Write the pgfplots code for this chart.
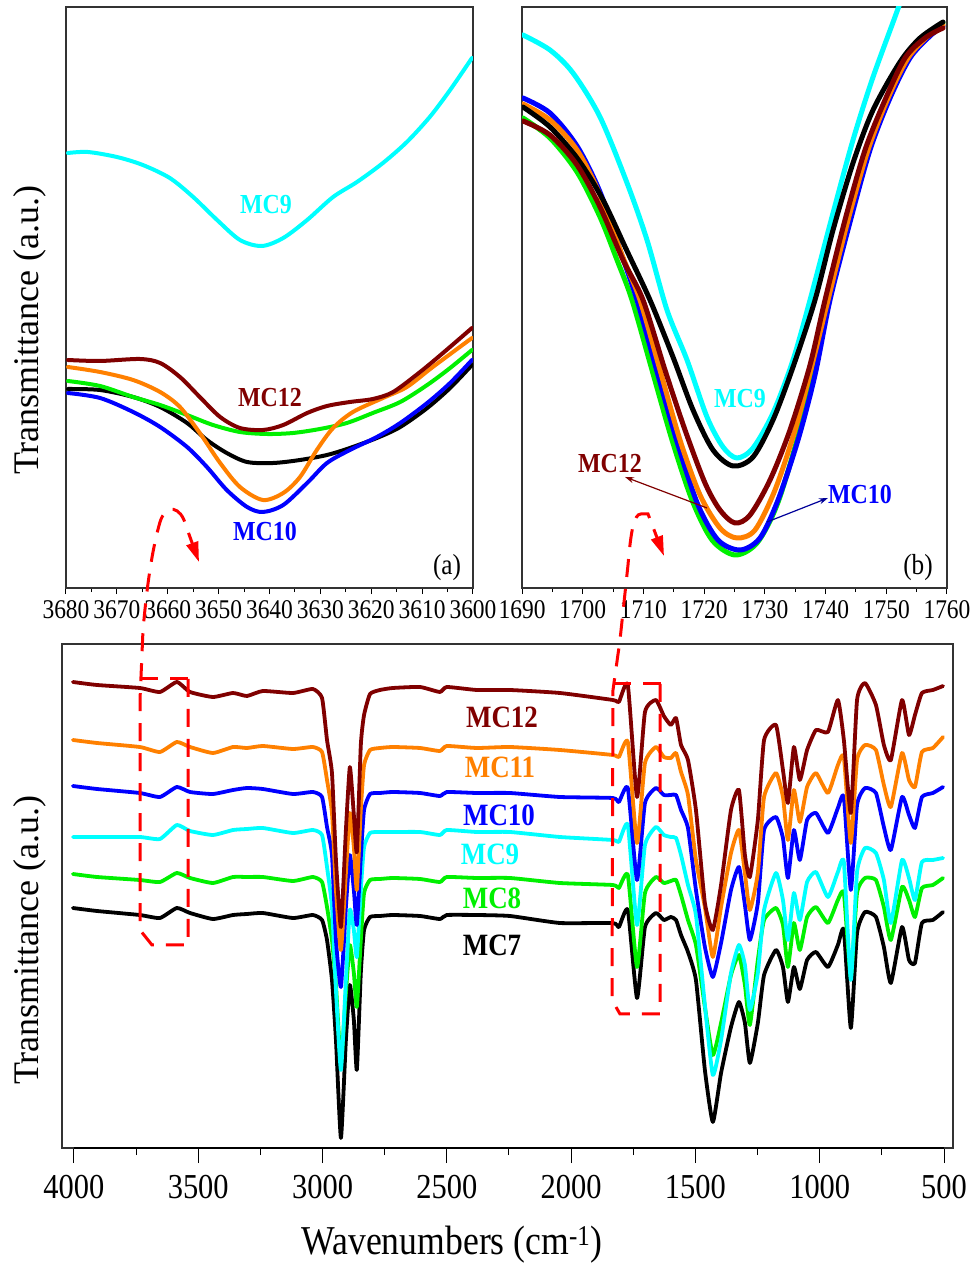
\documentclass[border=0pt]{standalone}
\usepackage{fontspec}
\setmainfont{Liberation Serif}
\newfontfamily\cond[FakeStretch=0.87]{Liberation Serif}
\usepackage{pgfplots}
\pgfplotsset{compat=1.18}
\usepackage{pgfplotstable}
\usetikzlibrary{arrows.meta}

\definecolor{c12}{RGB}{128,0,0}
\definecolor{c11}{RGB}{255,128,0}
\definecolor{c10}{RGB}{0,0,255}
\definecolor{c9}{RGB}{0,255,255}
\definecolor{c8}{RGB}{0,240,0}
\definecolor{c7}{RGB}{0,0,0}
\definecolor{dashred}{RGB}{255,0,0}

\newcommand\toplab{\cond\fontsize{27bp}{29bp}\selectfont}
\newcommand\botlab{\cond\fontsize{35bp}{37bp}\selectfont}

\pgfplotstableread{
w y12 y11 y10 y9 y8 y7
4004 682 740 786 837 874 908
3907 685 743 789 837 877 911
3735 688 747 793 837 880 915
3654 692 752 797 839 882 918
3586 682 742 787 825 873 908
3533 692 747 792 831 878 913
3441 697 753 794 835 883 919
3360 693 747 790 830 877 915
3304 696 748 788 829 877 914
3240 691 746 789 828 877 913
3119 693 749 794 833 881 918
3039 689 747 792 830 877 915
3002 698 752 797 835 882 920
2982 740 780 827 867 907 940
2962 773 813 855 907 940 980
2946 860 890 940 990 985 1040
2926 927 950 987 1070 1063 1138
2906 830 873 907 980 993 1040
2890 767 813 855 910 945 985
2874 815 847 890 930 973 1020
2862 852 890 925 957 1007 1070
2846 745 810 857 890 940 973
2833 715 765 810 847 893 930
2809 694 750 794 833 880 917
2769 690 748 793 832 879 916
2717 688 747 792 832 878 915
2608 687 748 793 832 879 916
2528 692 751 796 835 882 919
2500 687 746 792 830 877 915
2379 690 748 793 832 878 915
2246 690 747 793 832 878 916
2045 693 750 797 837 883 923
1832 700 755 798 840 885 923
1808 702 757 802 842 888 927
1772 685 742 788 825 875 910
1735 797 843 880 925 967 998
1703 712 763 803 845 893 927
1659 700 747 788 827 877 913
1627 716 757 795 835 883 920
1599 725 758 795 837 881 917
1578 718 753 795 838 880 920
1558 745 772 810 855 895 935
1530 760 795 828 885 920 952
1498 810 860 890 915 945 980
1462 903 907 947 1005 1007 1070
1430 930 957 977 1075 1055 1122
1397 885 907 943 1040 1023 1073
1357 810 853 890 973 975 1027
1325 790 830 867 945 955 1002
1301 855 873 905 965 985 1023
1281 877 910 940 1010 1025 1063
1249 820 873 903 973 960 1023
1224 740 797 830 910 920 975
1176 725 773 817 873 908 950
1148 770 797 838 900 925 967
1128 803 840 878 940 967 1002
1104 747 790 830 893 923 967
1080 780 822 860 920 950 989
1051 750 787 820 882 917 960
1015 730 773 813 872 907 952
967 732 793 833 897 923 967
927 700 765 808 872 900 945
903 740 757 797 862 893 930
875 813 843 890 980 977 1028
850 700 760 805 872 893 933
818 683 745 788 848 878 912
774 705 750 793 853 880 917
742 745 785 827 880 907 947
714 760 807 850 923 940 983
669 700 753 797 860 887 927
641 735 780 815 878 900 960
617 715 787 828 900 917 963
589 693 752 797 862 888 923
545 690 748 793 860 885 920
504 686 737 787 858 878 912
}\bottomdata

\pgfplotsset{
  panel/.style={
    scale only axis, y dir=reverse, ytick=\empty,
    axis line style={line width=1.3bp, black!80},
    tick style={line width=1bp, black},
    xtick pos=bottom, tick align=outside,
    /pgf/number format/assume math mode=true,
    /pgf/number format/1000 sep={},
    every axis plot/.append style={line join=round, line cap=round},
  }
}

\begin{document}
\begin{tikzpicture}
\useasboundingbox (0,0) rectangle (977bp,1263bp);

% ---------- panel (a) ----------
\begin{axis}[panel, at={(66bp,675bp)}, anchor=south west,
  width=407bp, height=581bp,
  xmin=3600, xmax=3680, x dir=reverse, ymin=7, ymax=588,
  xtick={3600,3610,...,3680}, minor x tick num=1,
  major tick length=6bp, minor tick length=4bp,
  xticklabel style={font=\toplab, yshift=-3bp},
  every axis plot/.append style={line width=4bp}]
\addplot[c7, smooth] coordinates {(3679.6,389) (3673.3,390) (3666.8,397) (3661.5,407) (3656.2,423) (3652.3,440) (3648.4,453) (3644.4,462) (3639.3,463) (3634.0,460) (3628.7,455) (3624.2,448) (3618.9,438) (3614.3,427) (3609.0,408) (3604.5,388) (3600.2,365)};
\addplot[c8, smooth] coordinates {(3679.6,381) (3673.3,386) (3666.8,397) (3661.5,405) (3656.2,415) (3651.1,425) (3645.8,432) (3640.5,434) (3635.4,433) (3630.1,429) (3624.8,423) (3619.7,413) (3614.3,402) (3609.0,385) (3604.5,368) (3600.2,350)};
\addplot[c10, smooth] coordinates {(3679.6,393) (3673.3,398) (3666.8,412) (3661.5,427) (3656.2,447) (3652.3,467) (3648.4,490) (3644.4,507) (3641.3,512) (3637.3,505) (3632.6,483) (3628.7,463) (3624.2,450) (3618.9,437) (3614.3,423) (3609.0,403) (3604.5,383) (3600.2,360)};
\addplot[c11, smooth] coordinates {(3679.6,367) (3673.3,372) (3666.8,380) (3661.5,392) (3657.6,407) (3653.7,433) (3649.7,463) (3645.8,487) (3641.3,500) (3637.3,493) (3634.0,477) (3630.7,450) (3627.5,428) (3623.6,412) (3617.7,398) (3613.0,387) (3607.9,367) (3600.2,338)};
\addplot[c12, smooth] coordinates {(3679.6,360) (3673.3,361) (3665.5,359) (3661.5,363) (3657.6,377) (3653.7,397) (3649.7,417) (3645.8,428) (3641.3,430) (3637.3,425) (3632.6,413) (3628.7,406) (3624.2,402) (3619.7,399) (3615.7,392) (3610.4,372) (3605.9,353) (3600.2,328)};
\addplot[c9, smooth] coordinates {(3679.6,153) (3675.7,152) (3670.0,157) (3664.9,165) (3659.6,178) (3655.0,197) (3650.3,220) (3645.8,240) (3641.5,246) (3637.3,238) (3632.6,220) (3627.5,197) (3622.8,182) (3617.7,163) (3613.0,142) (3608.5,117) (3604.5,90) (3600.2,58)};
\end{axis}

% ---------- panel (b) ----------
\begin{axis}[panel, at={(522bp,675bp)}, anchor=south west,
  width=425bp, height=581bp,
  xmin=1690, xmax=1760, ymin=7, ymax=588,
  xtick={1690,1700,...,1760}, minor x tick num=1,
  major tick length=6bp, minor tick length=4bp,
  xticklabel style={font=\toplab, yshift=-3bp},
  every axis plot/.append style={line width=5bp}]
\addplot[c9, smooth] coordinates {(1690.16,35) (1694.61,50) (1698.40,73) (1702.85,117) (1707.30,183) (1710.59,240) (1713.88,310) (1717.18,360) (1720.47,417) (1723.11,447) (1725.41,458) (1728.05,448) (1731.34,413) (1734.64,360) (1737.44,300) (1741.23,213) (1744.52,140) (1747.82,77) (1752.26,3) (1753.91,-30)};
\addplot[c8, smooth] coordinates {(1690.16,118) (1694.61,138) (1699.06,172) (1702.85,217) (1705.65,260) (1708.12,300) (1711.41,370) (1714.71,440) (1718.00,500) (1721.30,540) (1725.09,555) (1728.71,543) (1732.00,505) (1735.30,440) (1738.26,370) (1740.40,300) (1743.70,220) (1746.99,148) (1750.29,95) (1753.58,55) (1756.88,33) (1759.35,23)};
\addplot[c10, smooth] coordinates {(1690.16,98) (1694.61,113) (1699.06,146) (1702.85,192) (1706.14,250) (1708.94,300) (1712.40,375) (1715.70,445) (1718.99,505) (1722.28,540) (1725.91,550) (1729.20,538) (1732.17,500) (1735.46,440) (1738.26,375) (1740.73,300) (1744.03,222) (1747.32,150) (1750.62,98) (1753.91,58) (1757.21,36) (1759.35,26)};
\addplot[c11, smooth] coordinates {(1690.16,104) (1694.61,120) (1699.06,150) (1702.85,195) (1706.47,255) (1709.44,300) (1712.73,370) (1716.02,440) (1719.32,495) (1722.61,528) (1725.41,538) (1728.38,530) (1731.67,490) (1734.97,430) (1737.77,365) (1740.40,300) (1743.70,220) (1746.99,150) (1750.29,98) (1753.58,58) (1756.88,36) (1759.35,25)};
\addplot[c7, smooth] coordinates {(1690.16,107) (1694.61,127) (1699.06,158) (1703.18,198) (1707.30,251) (1711.08,300) (1714.87,357) (1718.17,410) (1721.46,450) (1724.76,466) (1728.05,457) (1731.34,420) (1734.64,367) (1738.26,300) (1741.23,230) (1744.52,163) (1747.82,110) (1752.26,62) (1755.56,38) (1759.35,22)};
\addplot[c12, smooth] coordinates {(1690.16,121) (1694.61,135) (1699.06,165) (1702.85,207) (1706.64,260) (1709.93,300) (1713.55,370) (1716.85,430) (1720.14,483) (1722.61,510) (1725.09,523) (1727.56,515) (1730.85,480) (1734.14,430) (1737.44,365) (1739.91,300) (1743.20,220) (1746.50,150) (1749.79,100) (1753.09,58) (1756.38,38) (1759.35,28)};
\end{axis}

% ---------- bottom panel ----------
\begin{axis}[panel, at={(62bp,115bp)}, anchor=south west,
  width=891bp, height=504bp,
  xmin=464, xmax=4048, x dir=reverse, ymin=644, ymax=1148,
  xtick={500,1000,...,4000}, minor x tick num=1,
  major tick length=15bp, minor tick length=7bp,
  xticklabel style={font=\botlab, yshift=-9bp},
  every axis plot/.append style={line width=3.8bp, smooth, tension=0.3}]
\addplot[c7] table[x=w, y=y7] {\bottomdata};
\addplot[c8] table[x=w, y=y8] {\bottomdata};
\addplot[c9] table[x=w, y=y9] {\bottomdata};
\addplot[c10] table[x=w, y=y10] {\bottomdata};
\addplot[c11] table[x=w, y=y11] {\bottomdata};
\addplot[c12] table[x=w, y=y12] {\bottomdata};
\draw[line width=2.5bp, black] (axis cs:4000,1148) -- (axis cs:500,1148);
\end{axis}

% ---------- annotations (image pixel frame) ----------
\begin{scope}[shift={(0,1263bp)}, x=1bp, y=-1bp]
  \node[rotate=90, font=\fontsize{36bp}{38bp}\selectfont] at (30,330) {Transmittance (a.u.)};
  \node[rotate=90, font=\fontsize{36bp}{38bp}\selectfont] at (30,940) {Transmittance (a.u.)};
  \node[font=\cond\fontsize{41bp}{43bp}\selectfont] at (452,1245) {Wavenumbers (cm\textsuperscript{-1})};
  \node[font=\cond\fontsize{29bp}{30bp}\selectfont] at (447,568) {(a)};
  \node[font=\cond\fontsize{29bp}{30bp}\selectfont] at (918,568) {(b)};
  % labels bottom
  \begin{scope}[every node/.style={font=\cond\bfseries\fontsize{31bp}{32bp}\selectfont}]
    \node[text=c12] at (502,717) {MC12};
    \node[text=c11] at (500,767) {MC11};
    \node[text=c10] at (499,815) {MC10};
    \node[text=c9] at (490,854) {MC9};
    \node[text=c8] at (492,898) {MC8};
    \node[text=c7] at (492,945) {MC7};
  \end{scope}
  \begin{scope}[every node/.style={font=\cond\bfseries\fontsize{27.5bp}{28bp}\selectfont}]
    \node[text=c9] at (266,205) {MC9};
    \node[text=c12] at (270,398) {MC12};
    \node[text=c10] at (265,532) {MC10};
    \node[text=c9] at (740,399) {MC9};
    \node[text=c12] at (610,464) {MC12};
    \node[text=c10] at (860,495) {MC10};
  \end{scope}
  \draw[c12, line width=1.2bp, -{Stealth[length=9bp,width=6bp]}] (707,508) -- (625,477);
  \draw[blue!60!black, line width=1.2bp, -{Stealth[length=9bp,width=6bp]}] (767,522) -- (828,498);
  % red dashed boxes and arrows
  \begin{scope}[dashred, line width=3bp, dash pattern=on 18bp off 12bp]
    \draw (140,679) -- (188,679);
    \draw[-{Triangle[length=20bp,width=12bp]}] (188,679) -- (188,945) -- (152,945) -- (140,930) -- (140,700) -- (143,630) .. controls (147,585) and (152,550) .. (160,522) .. controls (166,503) and (181,506) .. (186,526) -- (199,562);
    \draw (613,684) -- (661,684);
    \draw[-{Triangle[length=20bp,width=12bp]}] (660,684) -- (660,1014) -- (620,1014) -- (612,1000) -- (613,690) -- (620,640) -- (628,565) .. controls (631,530) and (634,514) .. (641,514) -- (648,514) -- (664,556);
  \end{scope}
\end{scope}
\end{tikzpicture}
\end{document}
